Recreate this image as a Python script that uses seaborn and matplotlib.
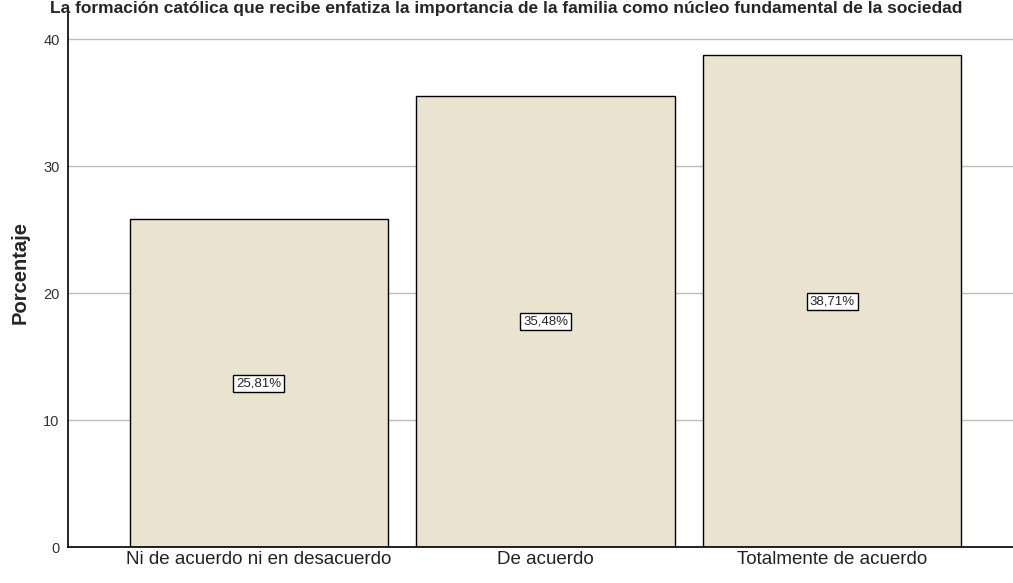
import numpy as np
import pandas as pd
import matplotlib.pyplot as plt
import seaborn as sns

categorias = ["Ni de acuerdo ni en desacuerdo", "De acuerdo", "Totalmente de acuerdo"]
porcentajes = [25.81, 35.48, 38.71]
etiquetas = ["25,81%", "35,48%", "38,71%"]
titulo = "La formación católica que recibe enfatiza la importancia de la familia como núcleo fundamental de la sociedad"

sns.set_style("white")
plt.rcParams["font.family"] = ["Liberation Sans", "DejaVu Sans"]

data = pd.DataFrame({"categoria": categorias, "porcentaje": porcentajes})

fig = plt.figure(figsize=(10.13, 5.83), dpi=100)
ax = fig.add_axes([0.0671, 0.0617, 0.9329, 0.917])

sns.barplot(data=data, x="categoria", y="porcentaje", color="#EAE3CF",
            edgecolor="black", linewidth=1.0, width=0.9, saturation=1, ax=ax, zorder=2)

ax.set_ylim(0, 42.1)
ax.set_xlim(-0.665, 2.63)
ax.set_yticks([0, 10, 20, 30, 40])
ax.yaxis.grid(True, color="#BDBDBD", linewidth=1, zorder=0)
ax.set_axisbelow(True)
ax.tick_params(axis="y", length=0, labelsize=10.5, labelcolor="#333333", pad=6)
ax.tick_params(axis="x", length=0, labelsize=13.5, labelcolor="#222222", pad=3)
ax.set_xlabel("")
ax.set_ylabel("Porcentaje", fontsize=14.5, fontweight="bold")
ax.yaxis.set_label_coords(-0.041, 0.514)

for s in ["top", "right"]:
    ax.spines[s].set_visible(False)
for s in ["left", "bottom"]:
    ax.spines[s].set_color("black")
    ax.spines[s].set_linewidth(1.2)

for i, (v, t) in enumerate(zip(porcentajes, etiquetas)):
    ax.text(i, v / 2, t, ha="center", va="center", fontsize=9.5, zorder=5,
            bbox=dict(boxstyle="square,pad=0.2", facecolor="white", edgecolor="black", linewidth=1))

fig.text(0.5, 0.999, titulo, ha="center", va="top", fontsize=12.5, fontweight="bold")

plt.savefig("out.png", dpi=100)
